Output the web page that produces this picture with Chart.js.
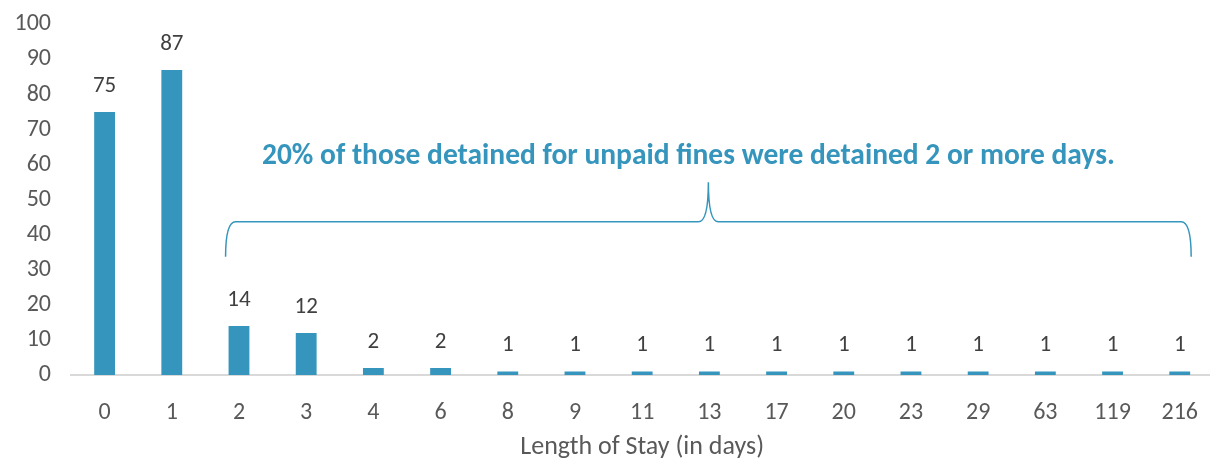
<!DOCTYPE html>
<html lang="en">
<head>
<meta charset="UTF-8" />
<title>Length of Stay</title>
<style>
  html, body { margin: 0; padding: 0; background: #fff; overflow: hidden; }
  .wrap { width: 1222px; height: 468px; margin-top: -10px; position: relative; }
</style>
</head>
<body>
<div class="wrap"><canvas id="stayChart"></canvas></div>

<script src="https://cdn.jsdelivr.net/npm/chart.js"></script>
<script>
  // Data
  const stayDays = ['0', '1', '2', '3', '4', '6', '8', '9', '11', '13', '17', '20', '23', '29', '63', '119', '216'];
  const detainedCounts = [75, 87, 14, 12, 2, 2, 1, 1, 1, 1, 1, 1, 1, 1, 1, 1, 1];
  const yTicks = [0, 10, 20, 30, 40, 50, 60, 70, 80, 90, 100];
  const noteText = '20% of those detained for unpaid fines were detained 2 or more days.';
  const braceFrom = 2, braceTo = 16;      // categories the brace covers
  const braceLow = 33.7, braceHigh = 43.7, bracePeak = 55, noteLevel = 62.3;

  const FONT = 'Carlito, Calibri, "Open Sans", sans-serif';
  const BLUE = '#3595bc';

  // value labels above each bar
  const valueLabels = {
    id: 'valueLabels',
    afterDatasetsDraw(chart) {
      const ctx = chart.ctx;
      const meta = chart.getDatasetMeta(0);
      ctx.save();
      ctx.font = '23px ' + FONT;
      ctx.fillStyle = '#404040';
      ctx.textAlign = 'center';
      ctx.textBaseline = 'middle';
      meta.data.forEach((bar, i) => {
        ctx.fillText(detainedCounts[i], bar.x, bar.y - 26);
      });
      ctx.restore();
    }
  };

  // curly brace + note
  const braceNote = {
    id: 'braceNote',
    afterDraw(chart) {
      const ctx = chart.ctx;
      const y = chart.scales.y;
      const bars = chart.getDatasetMeta(0).data;
      const left = bars[braceFrom].x - bars[braceFrom].width / 2 - 3;
      const right = bars[braceTo].x + bars[braceTo].width / 2 + 1;
      const mid = (left + right) / 2;
      const yLow = y.getPixelForValue(braceLow);
      const yTop = y.getPixelForValue(braceHigh);
      const yPeak = y.getPixelForValue(bracePeak);
      const r = 10;
      ctx.save();
      ctx.strokeStyle = BLUE;
      ctx.lineWidth = 1.5;
      ctx.beginPath();
      ctx.moveTo(left, yLow);
      ctx.quadraticCurveTo(left, yTop, left + r, yTop);
      ctx.lineTo(mid - r, yTop);
      ctx.quadraticCurveTo(mid, yTop, mid, yPeak);
      ctx.quadraticCurveTo(mid, yTop, mid + r, yTop);
      ctx.lineTo(right - r, yTop);
      ctx.quadraticCurveTo(right, yTop, right, yLow);
      ctx.stroke();

      ctx.font = 'bold 29.5px ' + FONT;
      ctx.fillStyle = BLUE;
      ctx.textAlign = 'center';
      ctx.textBaseline = 'middle';
      ctx.fillText(noteText, mid - 20, y.getPixelForValue(noteLevel));
      ctx.restore();
    }
  };

  const ctx = document.getElementById('stayChart').getContext('2d');
  new Chart(ctx, {
    type: 'bar',
    data: {
      labels: stayDays,
      datasets: [{
        data: detainedCounts,
        backgroundColor: BLUE,
        borderWidth: 0,
        categoryPercentage: 1,
        barPercentage: 0.31
      }]
    },
    options: {
      responsive: true,
      maintainAspectRatio: false,
      animation: false,
      layout: { padding: { top: 0, right: 0, left: 0, bottom: 0 } },
      plugins: {
        legend: { display: false },
        tooltip: { enabled: false }
      },
      scales: {
        x: {
          afterFit(scale) { scale.height = 83; },
          grid: { display: false, drawTicks: false },
          border: { display: true, color: '#d9d9d9', width: 2 },
          ticks: { color: '#595959', font: { size: 24, family: FONT }, padding: 24 },
          title: {
            display: true,
            text: 'Length of Stay (in days)',
            color: '#595959',
            font: { size: 26, family: FONT },
            padding: { top: 0, bottom: -5 }
          }
        },
        y: {
          min: 0,
          max: 100,
          afterFit(scale) { scale.width = 71; },
          afterBuildTicks(axis) { axis.ticks = yTicks.map(v => ({ value: v })); },
          grid: { display: false, drawTicks: false },
          border: { display: false },
          ticks: { color: '#595959', font: { size: 24, family: FONT }, padding: 20 }
        }
      }
    },
    plugins: [valueLabels, braceNote]
  });
</script>
</body>
</html>
